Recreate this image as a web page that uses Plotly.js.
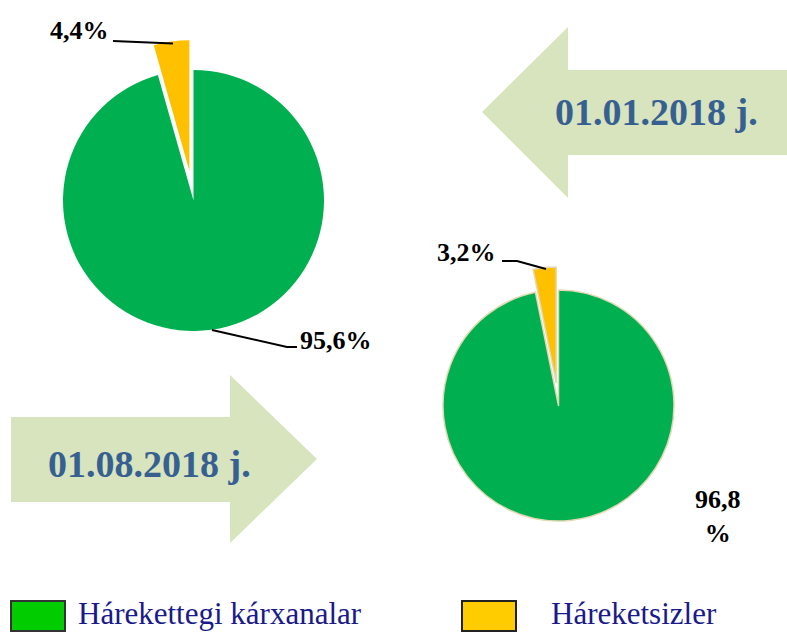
<!DOCTYPE html>
<html>
<head>
<meta charset="utf-8">
<script src="https://cdn.plot.ly/plotly-3.0.1.min.js"></script>
<style>
  html, body { margin: 0; padding: 0; background: #ffffff; }
  #chart { width: 787px; height: 633px; }
</style>
</head>
<body>
<div id="chart"></div>
<script>
// ---- data ----
var categories = ['Hárekettegi kárxanalar', 'Háreketsizler'];
var dates = ['01.01.2018 j.', '01.08.2018 j.'];
var valuesJan = [95.6, 4.4];
var valuesAug = [96.8, 3.2];
var pieColors = ['#00b050', '#ffc000'];
var legendColors = ['#00cc00', '#ffcc00'];

// ---- helpers (pixel -> paper) ----
var W = 787, H = 633;
function px(x) { return x / W; }
function py(y) { return 1 - y / H; }
function pathPx(pts, close) {
  var s = pts.map(function (p, i) { return (i ? 'L' : 'M') + px(p[0]).toFixed(5) + ',' + py(p[1]).toFixed(5); }).join(' ');
  return close ? s + ' Z' : s;
}
function pct(v) { return String(v).replace('.', ',') + '%'; }

var serif = '"Liberation Serif", "Times New Roman", serif';

var traces = [
  {
    type: 'pie', values: valuesJan, labels: categories, sort: false,
    direction: 'clockwise', rotation: 0, pull: [0, 0.23],
    marker: { colors: pieColors, line: { width: 0 } },
    textinfo: 'none', hoverinfo: 'none', showlegend: false,
    domain: { x: [px(33), px(354)], y: [py(361), py(40)] }
  },
  {
    type: 'pie', values: valuesAug, labels: categories, sort: false,
    direction: 'clockwise', rotation: 0, pull: [0, 0.2],
    marker: { colors: pieColors, line: { width: 1.5, color: '#e3d9b5' } },
    textinfo: 'none', hoverinfo: 'none', showlegend: false,
    domain: { x: [px(419.9), px(697.1)], y: [py(544.1), py(266.9)] }
  }
];

var arrowFill = '#d7e4bd';
var shapes = [
  { type: 'path', xref: 'paper', yref: 'paper', layer: 'below', fillcolor: arrowFill, line: { width: 0 },
    path: pathPx([[482,112],[568,27],[568,70],[787,70],[787,155],[568,155],[568,198]], true) },
  { type: 'path', xref: 'paper', yref: 'paper', layer: 'below', fillcolor: arrowFill, line: { width: 0 },
    path: pathPx([[11,417],[230,417],[230,375],[317,459],[230,543],[230,502],[11,502]], true) },
  // leader lines
  { type: 'path', xref: 'paper', yref: 'paper', line: { color: '#000', width: 2 },
    path: pathPx([[113,41],[173,43.5]], false) },
  { type: 'path', xref: 'paper', yref: 'paper', line: { color: '#000', width: 2 },
    path: pathPx([[212,330],[287,347],[297,347]], false) },
  { type: 'path', xref: 'paper', yref: 'paper', line: { color: '#000', width: 2 },
    path: pathPx([[502,261],[517,261],[546,269]], false) },
  // legend boxes
  { type: 'rect', xref: 'paper', yref: 'paper', fillcolor: legendColors[0], line: { color: '#333', width: 2 },
    x0: px(11), x1: px(65), y0: py(631), y1: py(601) },
  { type: 'rect', xref: 'paper', yref: 'paper', fillcolor: legendColors[1], line: { color: '#222', width: 2 },
    x0: px(462), x1: px(516), y0: py(631), y1: py(601) }
];

var lblFont = { family: serif, size: 26, color: '#000' };
var dateFont = { family: serif, size: 38, color: '#376092' };
var legFont = { family: serif, size: 31, color: '#1a1a8a' };

function ann(text, x, y, font, xanchor, yanchor) {
  return { text: text, x: px(x), y: py(y), xref: 'paper', yref: 'paper', showarrow: false,
           xanchor: xanchor || 'center', yanchor: yanchor || 'middle', font: font };
}

var annotations = [
  ann('<b>' + pct(valuesJan[1]) + '</b>', 79, 31, lblFont),
  ann('<b>' + pct(valuesJan[0]) + '</b>', 336, 340, lblFont),
  ann('<b>' + pct(valuesAug[1]) + '</b>', 467, 252, lblFont),
  ann('<b>' + String(valuesAug[0]).replace('.', ',') + '<br>%</b>', 718, 516, lblFont),
  ann('<b>' + dates[0] + '</b>', 656, 112, dateFont),
  ann('<b>' + dates[1] + '</b>', 149, 464, dateFont),
  ann(categories[0], 76, 632.5, legFont, 'left', 'bottom'),
  ann(categories[1], 549, 632.5, legFont, 'left', 'bottom')
];

var layout = {
  width: W, height: H,
  margin: { l: 0, r: 0, t: 0, b: 0, pad: 0 },
  paper_bgcolor: '#ffffff', plot_bgcolor: '#ffffff',
  showlegend: false,
  shapes: shapes,
  annotations: annotations,
  hovermode: false
};

Plotly.newPlot('chart', traces, layout, { displayModeBar: false, staticPlot: true });
</script>
</body>
</html>
